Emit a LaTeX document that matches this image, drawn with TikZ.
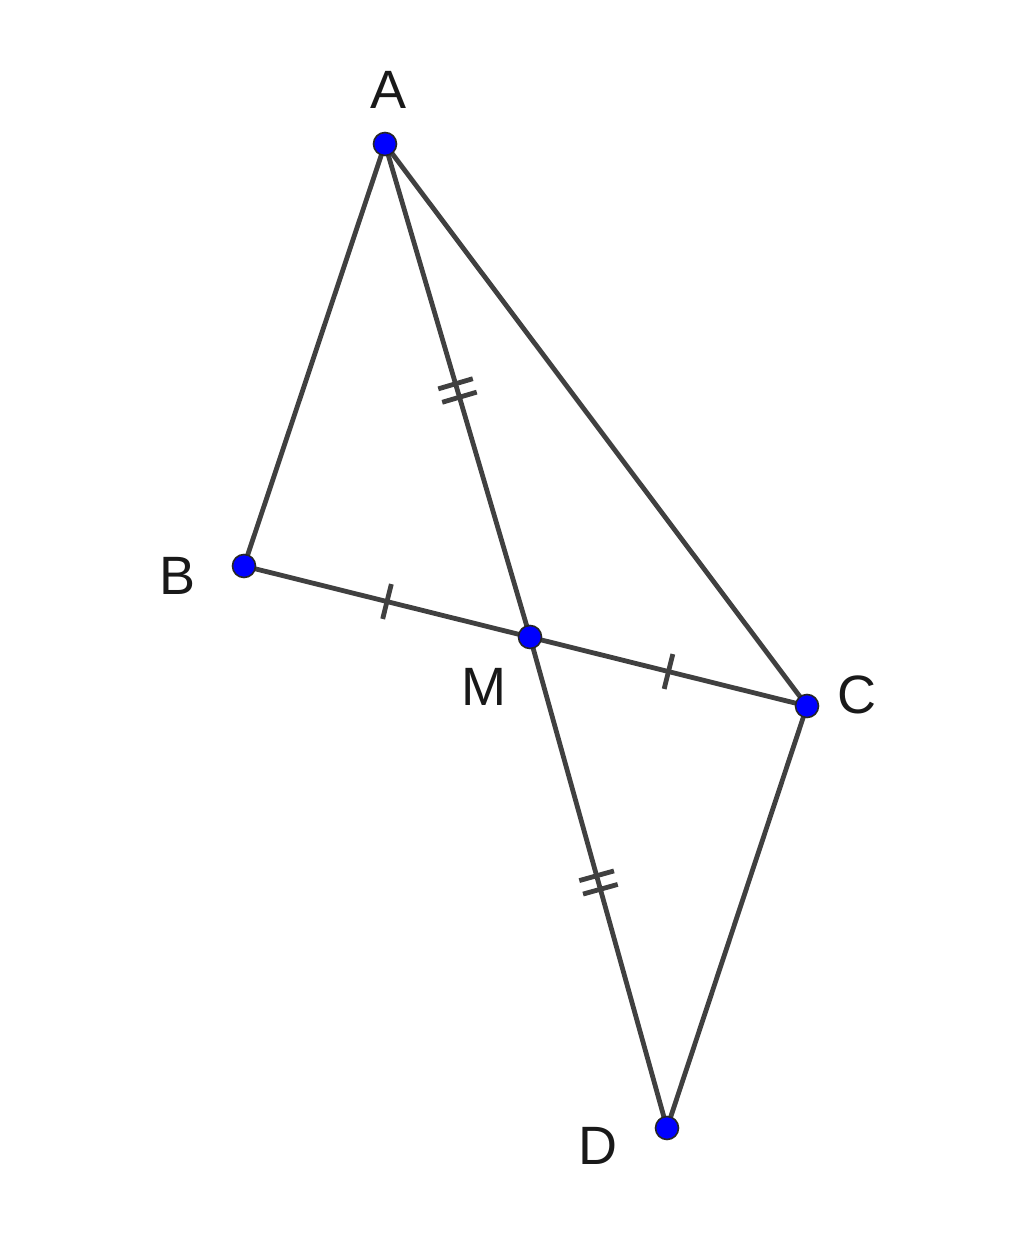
\documentclass[tikz,border=0pt]{standalone}
\usepackage{fontspec}
\setmainfont{Liberation Sans}
\usetikzlibrary{calc}
\definecolor{seg}{HTML}{404040}
\tikzset{
  segline/.style={draw=seg, line width=2.4pt},
  ptdot/.style={circle, fill=blue, draw=black!85, line width=0.8pt, inner sep=0pt, minimum size=11.5pt},
  ptlabel/.style={font=\fontsize{27}{30}\selectfont, text=black!90, inner sep=0pt}
}
\begin{document}
\begin{tikzpicture}[x=0.5pt, y=-0.5pt]
\useasboundingbox (0,0) rectangle (1024,1235);
\coordinate (A) at (385,144);
\coordinate (B) at (244,566);
\coordinate (M) at (530,637);
\coordinate (C) at (807,706);
\coordinate (D) at (667,1128);
% segments
\draw[segline] (A) -- (B);
\draw[segline] (A) -- (C);
\draw[segline] (B) -- (C);
\draw[segline] (A) -- (M) -- (D);
\draw[segline] (C) -- (D);
% single ticks
\coordinate (t1) at ($(B)!0.5!(M)$);
\coordinate (t2) at ($(M)!0.5!(C)$);
\draw[segline] ($(t1)!9pt!90:(M)$) -- ($(t1)!9pt!-90:(M)$);
\draw[segline] ($(t2)!9pt!90:(C)$) -- ($(t2)!9pt!-90:(C)$);
% double ticks
\coordinate (t3) at ($(A)!0.5!(M)$);
\coordinate (t4) at ($(M)!0.5!(D)$);
\coordinate (t3a) at ($(t3)!3.5pt!(M)$);
\coordinate (t3b) at ($(t3)!-3.5pt!(M)$);
\coordinate (t4a) at ($(t4)!3.5pt!(D)$);
\coordinate (t4b) at ($(t4)!-3.5pt!(D)$);
\draw[segline] ($(t3a)!9pt!90:(M)$) -- ($(t3a)!9pt!-90:(M)$);
\draw[segline] ($(t3b)!9pt!90:(M)$) -- ($(t3b)!9pt!-90:(M)$);
\draw[segline] ($(t4a)!9pt!90:(D)$) -- ($(t4a)!9pt!-90:(D)$);
\draw[segline] ($(t4b)!9pt!90:(D)$) -- ($(t4b)!9pt!-90:(D)$);
% points
\node[ptdot] (pA) at (A) {};
\node[ptdot] (pB) at (B) {};
\node[ptdot] (pM) at (M) {};
\node[ptdot] (pC) at (C) {};
\node[ptdot] (pD) at (D) {};
% labels
\node[ptlabel] (lA) at (389,90) {A};
\node[ptlabel] (lB) at (178,576) {B};
\node[ptlabel] (lM) at (484,687) {M};
\node[ptlabel] (lC) at (857,695) {C};
\node[ptlabel] (lD) at (598,1146) {D};
\end{tikzpicture}
\end{document}
